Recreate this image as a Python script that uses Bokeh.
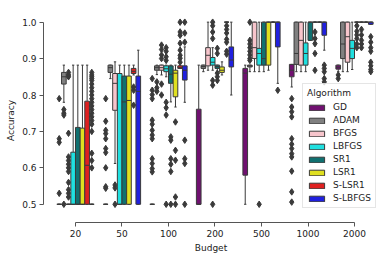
from bokeh.plotting import figure
from bokeh.models import FixedTicker, Legend, LegendItem, NumeralTickFormatter
from bokeh.embed import file_html
from bokeh.resources import INLINE

BUDGETS = ["20", "50", "100", "200", "500", "1000", "2000"]
ALGOS = ["GD", "ADAM", "BFGS", "LBFGS", "SR1", "LSR1", "S-LSR1", "S-LBFGS"]
COLORS = ["#701070", "#808080", "#f7c5cc", "#20dfdf", "#107070", "#dfdf20", "#df2020", "#2020df"]

# per budget: (whisker_low, q1, median, q3, whisker_high)
GD_STATS = [(0.5, 0.5, 0.5, 0.5, 0.5), (0.5, 0.5, 0.5, 0.5, 0.5), (0.5, 0.5, 0.5, 0.5, 0.5),
            (0.5, 0.5, 0.5, 0.761, 0.882), (0.5, 0.58, 0.86, 0.873, 0.882),
            (0.822, 0.85, 0.868, 0.884, 0.884), (0.864, 0.871, 0.876, 0.882, 0.882)]
GD_OUT = [[0.79, 0.68, 0.67, 0.53],
          [0.79, 0.728, 0.703, 0.694, 0.68, 0.653, 0.642, 0.6, 0.548, 0.544],
          [0.845, 0.813, 0.801, 0.79, 0.731, 0.72, 0.703, 0.69, 0.68, 0.625, 0.612, 0.598, 0.589],
          [], [],
          [0.79, 0.767, 0.754, 0.74, 0.68, 0.665, 0.653, 0.639, 0.63, 0.591, 0.534, 0.506],
          [0.855, 0.845]]

ADAM_STATS = [(0.78, 0.83, 0.85, 0.862, 0.882), (0.845, 0.862, 0.875, 0.882, 0.882),
              (0.856, 0.868, 0.875, 0.88, 0.882), (0.864, 0.873, 0.878, 0.882, 0.882),
              (0.864, 0.877, 0.88, 0.882, 0.882), (0.864, 0.884, 0.914, 1.0, 1.0),
              (0.864, 0.9, 0.94, 1.0, 1.0)]
ADAM_OUT = [[0.76, 0.75, 0.745, 0.5], [], [0.836, 0.82, 0.81], [],
            [1.0, 0.95, 0.94, 0.93, 0.92, 0.91, 0.9, 0.895], [], []]

BFGS_STATS = [(0.5, 0.5, 0.5, 0.5, 0.5), (0.612, 0.758, 0.832, 0.859, 0.891),
              (0.855, 0.868, 0.875, 0.882, 0.882), (0.868, 0.88, 0.909, 0.93, 1.0),
              (0.864, 0.9, 0.93, 1.0, 1.0), (0.864, 0.882, 0.95, 1.0, 1.0),
              (0.864, 0.89, 0.96, 1.0, 1.0)]
BFGS_OUT = [[0.862, 0.855, 0.85, 0.695, 0.63, 0.62, 0.61, 0.6, 0.59, 0.56, 0.54, 0.53, 0.52],
            [0.553, 0.545, 0.5], [0.937, 0.925, 0.91, 0.9, 0.83, 0.8], [], [], [], []]

LBFGS_STATS = [(0.5, 0.5, 0.5, 0.643, 0.882), (0.5, 0.5, 0.5, 0.859, 0.882),
               (0.85, 0.864, 0.872, 0.88, 0.882), (0.868, 0.882, 0.89, 0.903, 0.93),
               (0.864, 0.882, 0.914, 0.928, 1.0), (0.864, 0.882, 0.914, 0.943, 1.0),
               (0.87, 0.9, 0.928, 0.95, 1.0)]
LBFGS_OUT = [[], [], [0.93, 0.92, 0.905, 0.895, 0.78, 0.765, 0.745, 0.5],
             [1.0, 0.99, 0.973, 0.955, 0.84, 0.827, 0.5], [0.5], [], []]

SR1_STATS = [(0.5, 0.5, 0.5, 0.711, 0.882), (0.5, 0.5, 0.781, 0.852, 0.882),
             (0.781, 0.832, 0.857, 0.88, 0.882), (0.864, 0.873, 0.878, 0.882, 0.882),
             (0.864, 0.882, 0.9, 1.0, 1.0), (0.95, 0.95, 1.0, 1.0, 1.0),
             (1.0, 1.0, 1.0, 1.0, 1.0)]
SR1_OUT = [[], [], [0.685, 0.676, 0.625, 0.61, 0.59, 0.5],
           [0.928, 0.914, 0.86, 0.85, 0.84], [], [],
           [0.99, 0.975, 0.965, 0.955, 0.94, 0.93]]

LSR1_STATS = [(0.5, 0.5, 0.5, 0.709, 0.882), (0.5, 0.5, 0.785, 0.852, 0.882),
              (0.767, 0.795, 0.86, 0.868, 0.882), (0.855, 0.862, 0.868, 0.877, 0.891),
              (0.868, 0.882, 1.0, 1.0, 1.0), (1.0, 1.0, 1.0, 1.0, 1.0),
              (1.0, 1.0, 1.0, 1.0, 1.0)]
LSR1_OUT = [[], [], [0.726, 0.648, 0.621, 0.52, 0.5], [], [],
            [0.973, 0.955, 0.941, 0.914, 0.868], [0.98, 0.965, 0.95, 0.94, 0.93]]

SLSR1_STATS = [(0.5, 0.5, 0.607, 0.783, 0.882), (0.855, 0.859, 0.865, 0.873, 0.882),
               (0.873, 0.873, 0.875, 0.88, 0.88), (1.0, 1.0, 1.0, 1.0, 1.0),
               (1.0, 1.0, 1.0, 1.0, 1.0), (1.0, 1.0, 1.0, 1.0, 1.0),
               (1.0, 1.0, 1.0, 1.0, 1.0)]
SLSR1_OUT = [[], [0.822, 0.813, 0.772],
             [1.0, 0.973, 0.964, 0.942, 0.923, 0.909, 0.901, 0.89],
             [0.99, 0.98, 0.97, 0.953, 0.945, 0.92, 0.912], [], [], []]

SLBFGS_STATS = [(0.5, 0.5, 0.5, 0.5, 0.5), (0.5, 0.5, 0.81, 0.852, 0.923),
                (0.78, 0.841, 0.868, 0.88, 0.932), (0.8, 0.877, 0.896, 0.932, 1.0),
                (0.832, 0.932, 1.0, 1.0, 1.0), (0.923, 0.964, 1.0, 1.0, 1.0),
                (0.994, 0.994, 1.0, 1.0, 1.0)]
SLBFGS_OUT = [[0.862, 0.855, 0.85, 0.845, 0.84, 0.83, 0.82, 0.81, 0.8, 0.79, 0.78, 0.77,
               0.76, 0.75, 0.74, 0.73, 0.72, 0.7, 0.64, 0.62, 0.6],
              [], [1.0, 0.97, 0.945, 0.676, 0.625, 0.612, 0.5], [], [0.813],
              [0.882, 0.873, 0.864, 0.845, 0.836],
              [0.96, 0.945, 0.93, 0.92, 0.89, 0.88, 0.87, 0.864]]

STATS = [GD_STATS, ADAM_STATS, BFGS_STATS, LBFGS_STATS, SR1_STATS, LSR1_STATS, SLSR1_STATS, SLBFGS_STATS]
OUTS = [GD_OUT, ADAM_OUT, BFGS_OUT, LBFGS_OUT, SR1_OUT, LSR1_OUT, SLSR1_OUT, SLBFGS_OUT]

EDGE = "#3a3a3a"
FONT = "DejaVu Sans"
FS = "9px"
BW = 0.1

p = figure(width=388, height=258, x_range=(-0.688, 6.516), y_range=(0.45, 1.01),
           output_backend="svg", toolbar_location=None,
           min_border_left=43, min_border_right=10, min_border_top=18, min_border_bottom=36)
p.outline_line_color = None
p.xgrid.visible = False
p.ygrid.visible = False

items = []
n = len(ALGOS)
for i, (name, color, st, outs) in enumerate(zip(ALGOS, COLORS, STATS, OUTS)):
    xs = [j + (i - (n - 1) / 2) * BW for j in range(len(BUDGETS))]
    lo = [s[0] for s in st]
    q1 = [s[1] for s in st]
    md = [s[2] for s in st]
    q3 = [s[3] for s in st]
    hi = [s[4] for s in st]
    p.segment(x0=xs, y0=q3, x1=xs, y1=hi, line_color=EDGE, line_width=1)
    p.segment(x0=xs, y0=q1, x1=xs, y1=lo, line_color=EDGE, line_width=1)
    p.segment(x0=[x - BW / 4 for x in xs], y0=hi, x1=[x + BW / 4 for x in xs], y1=hi,
              line_color=EDGE, line_width=1)
    p.segment(x0=[x - BW / 4 for x in xs], y0=lo, x1=[x + BW / 4 for x in xs], y1=lo,
              line_color=EDGE, line_width=1)
    r = p.vbar(x=xs, width=BW, bottom=q1, top=q3, fill_color=color, line_color=EDGE, line_width=1)
    p.segment(x0=[x - BW / 2 for x in xs], y0=md, x1=[x + BW / 2 for x in xs], y1=md,
              line_color=EDGE, line_width=1)
    ox, oy = [], []
    for j, o in enumerate(outs):
        ox += [xs[j]] * len(o)
        oy += o
    p.scatter(x=ox, y=oy, marker="diamond", size=6.5, fill_color=EDGE, line_color=EDGE)
    items.append(LegendItem(label=name, renderers=[r]))

p.xaxis.ticker = FixedTicker(ticks=list(range(len(BUDGETS))))
p.xaxis.major_label_overrides = {j: b for j, b in enumerate(BUDGETS)}
p.xaxis.bounds = (0, len(BUDGETS) - 1)
p.yaxis.ticker = FixedTicker(ticks=[0.5, 0.6, 0.7, 0.8, 0.9, 1.0])
p.yaxis.formatter = NumeralTickFormatter(format="0.0")
p.yaxis.bounds = (0.5, 1.0)
p.xaxis.axis_label = "Budget"
p.yaxis.axis_label = "Accuracy"
for ax in (p.xaxis[0], p.yaxis[0]):
    ax.axis_line_color = "#555555"
    ax.major_tick_line_color = "#555555"
    ax.minor_tick_line_color = None
    ax.major_tick_out = 4
    ax.major_tick_in = 0
    ax.major_label_text_font = FONT
    ax.major_label_text_font_size = FS
    ax.major_label_text_color = "#222222"
    ax.axis_label_text_font = FONT
    ax.axis_label_text_font_size = FS
    ax.axis_label_text_font_style = "normal"
    ax.axis_label_text_color = "#222222"
p.xaxis.major_label_standoff = 3
p.xaxis.axis_label_standoff = 3
p.yaxis.major_label_standoff = 3
p.yaxis.axis_label_standoff = 3

legend = Legend(items=items, location=(259, 14), title="Algorithm",
                title_text_font=FONT, title_text_font_size=FS, title_text_font_style="normal",
                title_text_color="#222222", title_standoff=4, title_text_align="center",
                label_text_font=FONT, label_text_font_size=FS, label_text_color="#222222",
                glyph_width=19, glyph_height=7, label_height=10, spacing=3,
                label_standoff=7, padding=4, margin=0,
                border_line_color="#cccccc", background_fill_alpha=0.8)
p.add_layout(legend)

open("out.html", "w").write(file_html(p, INLINE))
